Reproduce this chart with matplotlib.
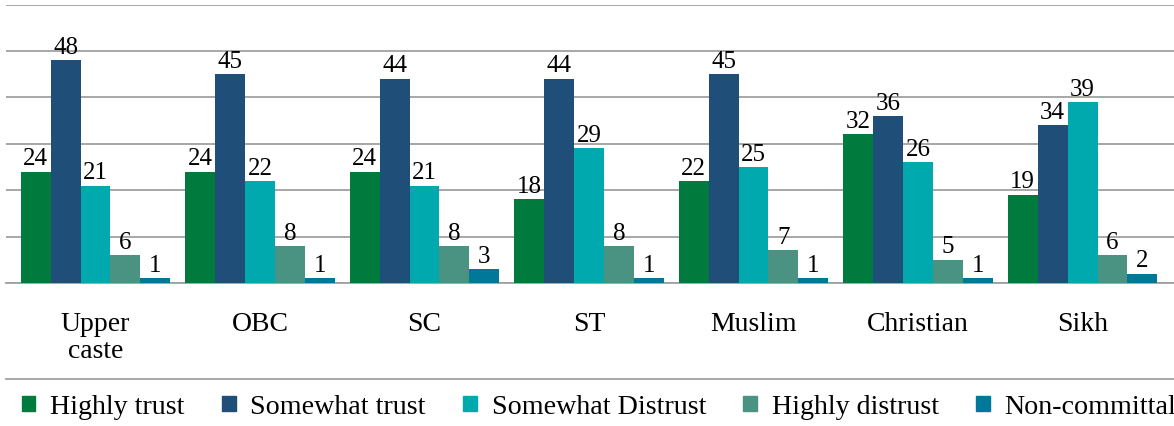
import matplotlib.pyplot as plt
import numpy as np
from matplotlib.lines import Line2D
from matplotlib.patches import Patch

# trust levels by community (%)
groups = ['Upper\ncaste', 'OBC', 'SC', 'ST', 'Muslim', 'Christian', 'Sikh']
series = ['Highly trust', 'Somewhat trust', 'Somewhat Distrust',
          'Highly distrust', 'Non-committal']
highly_trust = [24, 24, 24, 18, 22, 32, 19]
somewhat_trust = [48, 45, 44, 44, 45, 36, 34]
somewhat_distrust = [21, 22, 21, 29, 25, 26, 39]
highly_distrust = [6, 8, 8, 8, 7, 5, 6]
non_committal = [1, 1, 3, 1, 1, 1, 2]

values = [highly_trust, somewhat_trust, somewhat_distrust,
          highly_distrust, non_committal]
colors = ['#007a3d', '#1f4e79', '#00a9ad', '#4a9282', '#00789a']

plt.rcParams['font.family'] = ['Liberation Serif', 'DejaVu Serif']

fig = plt.figure(figsize=(11.74, 4.27), dpi=100)
ax = fig.add_axes([6 / 1174, 0.335, 1 - 6 / 1174, 0.652])

x = np.arange(len(groups))
w = 0.182
for i, (vals, c) in enumerate(zip(values, colors)):
    pos = x + (i - 2) * w
    bars = ax.bar(pos, vals, width=w, color=c, zorder=3, label=series[i])
    for b, v in zip(bars, vals):
        ax.text(b.get_x() + b.get_width() / 2, v + 0.5, str(v),
                ha='center', va='bottom', fontsize=18, color='black')

ax.set_ylim(0, 60)
ax.set_xlim(-0.544, 6.556)
ax.set_yticks(np.arange(0, 61, 10))
ax.yaxis.grid(True, color='#a0a0a0', linewidth=1.3, zorder=0)
ax.set_yticklabels([])
ax.tick_params(axis='y', length=0)
ax.set_xticks(x)
ax.set_xticklabels(groups, fontsize=20, linespacing=1.1)
ax.tick_params(axis='x', length=0, pad=20)
for s in ['top', 'right', 'left']:
    ax.spines[s].set_visible(False)
ax.spines['bottom'].set_color('#a0a0a0')
ax.spines['bottom'].set_linewidth(1.3)

# separator line above legend
fig.add_artist(Line2D([6 / 1174, 1], [1 - 380 / 427, 1 - 380 / 427],
                      color='#a0a0a0', linewidth=1.3))

handles = [Patch(color=c) for c in colors]
fig.legend(handles, series, loc='center left', ncol=5,
           bbox_to_anchor=(22 / 1174, 1 - 408 / 427), frameon=False,
           fontsize=20.2, handlelength=0.48, handleheight=0.48,
           handletextpad=0.53, columnspacing=1.33, borderaxespad=0,
           borderpad=0)

fig.savefig('out.png', dpi=100)
